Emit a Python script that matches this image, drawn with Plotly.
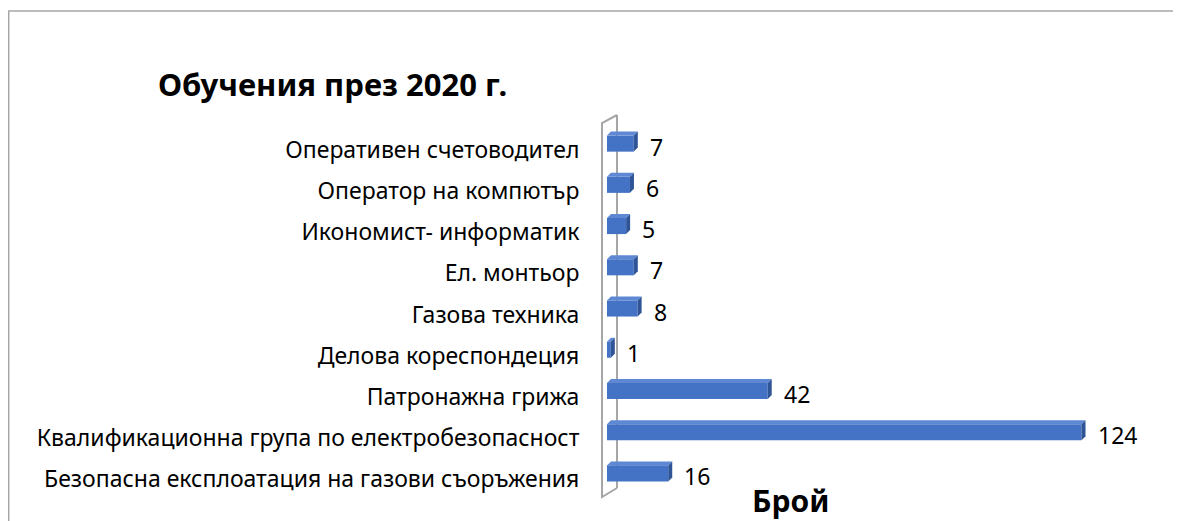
import plotly.graph_objects as go

# Data (bottom -> top, as in the reference)
categories = [
    "Безопасна експлоатация на газови съоръжения",
    "Квалификационна група по електробезопасност",
    "Патронажна грижа",
    "Делова кореспондеция",
    "Газова техника",
    "Ел. монтьор",
    "Икономист- информатик",
    "Оператор на компютър",
    "Оперативен счетоводител",
]
values = [16, 124, 42, 1, 8, 7, 5, 6, 7]
title_text = "Обучения през 2020 г."
axis_title = "Брой"

FONT = "Noto Sans"
OFF = 8  # page body margin
W, H = 1181 - OFF, 521 - OFF
ML, MR, MT, MB = 607 - OFF, 0, 123 - OFF, 27
PW, PH = W - ML - MR, H - MT - MB
XMAX = 150
px_per_unit = PW / XMAX
depth_px = 4
d = depth_px / px_per_unit
half = 8  # half bar height in px
label_shift = 6 / (PH / len(categories))

positions = list(range(len(categories)))

fig = go.Figure()
fig.add_trace(go.Bar(
    x=values, y=positions, orientation="h", width=0.39,
    marker=dict(color="#4472C4", line=dict(width=0)),
    hoverinfo="x+text", text=categories, textposition="none",
))

WALL = dict(color="#A6A6A6", width=2)
shapes = []
# chart border
shapes.append(dict(type="rect", xref="paper", yref="paper",
                   x0=(0.7 - ML) / PW, x1=1.2,
                   y0=-0.3, y1=(MT + PH - 3) / PH,
                   line=dict(color="#A6A6A6", width=1.5), layer="below"))
# 3D wall: back line (behind bars), anchored at the value axis origin (paper x=0)
shapes.append(dict(type="path", xref="paper", yref="paper",
                   xsizemode="pixel", ysizemode="pixel", xanchor=0, yanchor=0,
                   path=f"M10,6 L10,{PH + 8}",
                   line=WALL, layer="below"))
# 3D wall: front line and connectors
shapes.append(dict(type="path", xref="paper", yref="paper",
                   xsizemode="pixel", ysizemode="pixel", xanchor=0, yanchor=0,
                   path=f"M10,{PH + 8} L-5,{PH} L-5,-3 L10,6",
                   line=WALL, layer="above"))
for i, v in zip(positions, values):
    # top face
    shapes.append(dict(type="path", xref="x", yref="y", ysizemode="pixel", yanchor=i,
                       path=f"M0,{half} L{v},{half} L{v + d},{half + depth_px} L{d},{half + depth_px} Z",
                       fillcolor="#5E88D4", line=dict(width=0), layer="above"))
    # side face
    shapes.append(dict(type="path", xref="x", yref="y", ysizemode="pixel", yanchor=i,
                       path=f"M{v},{half} L{v + d},{half + depth_px} L{v + d},{-half + depth_px} L{v},{-half} Z",
                       fillcolor="#2F5597", line=dict(width=0), layer="above"))

annotations = []
for i, v in zip(positions, values):
    annotations.append(dict(x=v, y=i, xref="x", yref="y", text=str(v), showarrow=False,
                            xanchor="left", yanchor="middle", xshift=14, yshift=-3,
                            font=dict(family=FONT, size=23, color="#000000")))
annotations.append(dict(x=(790 - OFF - ML) / PW, y=(MT + PH - (500 - OFF)) / PH,
                        xref="paper", yref="paper", text=f"<b>{axis_title}</b>",
                        showarrow=False, xanchor="center", yanchor="middle",
                        font=dict(family=FONT, size=30, color="#000000")))

fig.update_layout(
    width=W, height=H,
    margin=dict(l=ML, r=MR, t=MT, b=MB, pad=0),
    paper_bgcolor="white", plot_bgcolor="rgba(0,0,0,0)",
    showlegend=False,
    title=dict(text=f"<b>{title_text}</b>", x=(158 - OFF) / W, xanchor="left",
               y=1 - (85 - OFF) / H, yanchor="middle",
               font=dict(family=FONT, size=31, color="#000000")),
    xaxis=dict(range=[0, XMAX], visible=False, fixedrange=True),
    yaxis=dict(range=[-0.5, len(categories) - 0.5], tickmode="array",
               tickvals=[p - label_shift for p in positions], ticktext=categories,
               showgrid=False, zeroline=False, showline=False,
               ticks="outside", ticklen=22, tickcolor="rgba(0,0,0,0)",
               tickfont=dict(family=FONT, size=23, color="#000000")),
    shapes=shapes, annotations=annotations,
)

fig.write_html("out.html")
